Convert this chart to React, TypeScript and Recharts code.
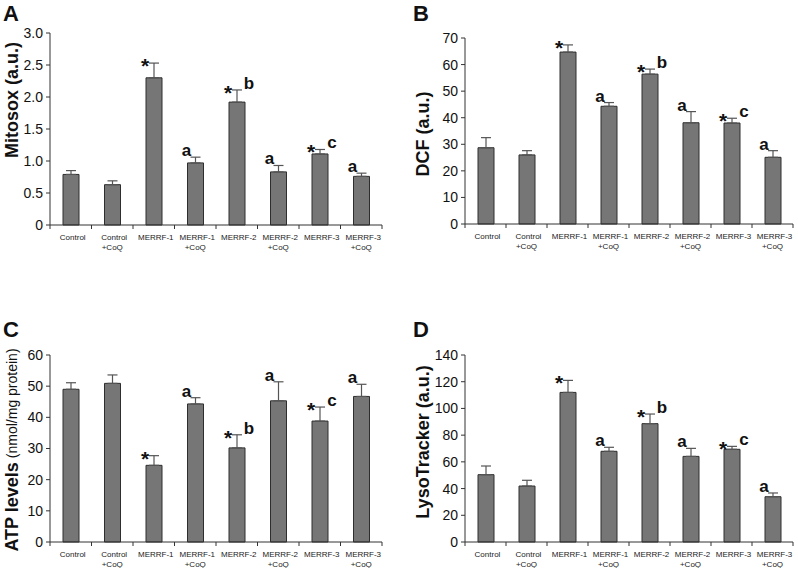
import { BarChart, Bar, XAxis, YAxis, ErrorBar, LabelList, Label } from "recharts";

const FONT = '"Liberation Sans", Arial, Helvetica, sans-serif';
const AXIS = "#333";

const groups = [
  "Control",
  "Control\n+CoQ",
  "MERRF-1",
  "MERRF-1\n+CoQ",
  "MERRF-2",
  "MERRF-2\n+CoQ",
  "MERRF-3",
  "MERRF-3\n+CoQ",
];

const marks = ["", "", "*", "a", "* b", "a", "* c", "a"];

const mitosoxMean = [0.79, 0.63, 2.3, 0.97, 1.92, 0.83, 1.11, 0.76];
const mitosoxErr = [0.06, 0.06, 0.23, 0.09, 0.19, 0.1, 0.07, 0.05];
const mitosoxTicks = [0, 0.5, 1.0, 1.5, 2.0, 2.5, 3.0];

const dcfMean = [28.7, 26.0, 64.7, 44.3, 56.4, 38.1, 38.0, 25.1];
const dcfErr = [3.8, 1.6, 2.7, 1.4, 1.9, 4.2, 1.8, 2.5];
const dcfTicks = [0, 10, 20, 30, 40, 50, 60, 70];

const atpMean = [49.0, 50.9, 24.6, 44.3, 30.2, 45.3, 38.8, 46.7];
const atpErr = [2.1, 2.7, 3.1, 2.0, 4.2, 6.1, 4.5, 3.9];
const atpTicks = [0, 10, 20, 30, 40, 50, 60];

const lysoMean = [50.4, 41.9, 112, 67.9, 88.6, 64.1, 69.4, 33.9];
const lysoErr = [6.5, 4.3, 9.0, 3.0, 7.2, 6.0, 2.2, 2.8];
const lysoTicks = [0, 20, 40, 60, 80, 100, 120, 140];

const GroupTick = (props: any) => {
  const { x, y, payload, index } = props;
  const half = payload?.offset || props.width / (2 * groups.length);
  const lines = String(payload.value).split("\n");
  return (
    <g>
      <line x1={x - half} x2={x - half} y1={y} y2={y + 4} stroke={AXIS} />
      {index === groups.length - 1 && (
        <line x1={x + half} x2={x + half} y1={y} y2={y + 4} stroke={AXIS} />
      )}
      <text x={x + 2} y={y + 15} textAnchor="middle" fontSize={8} fill="#222" fontFamily={FONT}>
        {lines.map((l, i) => (
          <tspan key={i} x={i === 0 ? x + 2 : x} dy={i === 0 ? 0 : 10}>
            {l}
          </tspan>
        ))}
      </text>
    </g>
  );
};

interface PanelProps {
  letter: string;
  mean: number[];
  err: number[];
  ticks: number[];
  fmt?: (v: number) => string;
  left: number;
  top: number;
  marginTop: number;
  xHeight: number;
  yWidth: number;
  marginRight: number;
  labelX: number;
  labelY: number;
  letterX: number;
  letterY: number;
  yLabel: React.ReactNode;
}

const Panel = (p: PanelProps) => {
  const data = groups.map((g, i) => ({
    name: g,
    mean: p.mean[i],
    err: [0, p.err[i]],
    mark: marks[i],
  }));

  // significance marks sit just above the error bar cap
  const renderMark = (props: any) => {
    const { x, y, width, height, index } = props;
    const m = marks[index];
    if (!m) return null;
    const cx = x + width / 2;
    const errTop = y - (p.err[index] * height) / p.mean[index];
    const hasStar = m.startsWith("*");
    const letter = m.replace("*", "").trim();
    return (
      <g fontFamily={FONT} fontWeight="bold" fill="#111">
        {hasStar && (
          <text x={cx - 9} y={errTop + 10} fontSize={21} textAnchor="middle">
            *
          </text>
        )}
        {letter && (
          <text x={hasStar ? cx + 12 : cx - 9} y={errTop - 1} fontSize={17} textAnchor="middle">
            {letter}
          </text>
        )}
      </g>
    );
  };

  return (
    <div style={{ position: "absolute", left: p.left, top: p.top }}>
      <BarChart
        width={400}
        height={284}
        data={data}
        margin={{ top: p.marginTop, right: p.marginRight, bottom: 0, left: 0 }}
      >
        <XAxis
          dataKey="name"
          height={p.xHeight}
          interval={0}
          tickLine={false}
          tickSize={0}
          tickMargin={0}
          axisLine={{ stroke: AXIS }}
          tick={<GroupTick />}
        />
        <YAxis
          width={p.yWidth}
          domain={[p.ticks[0], p.ticks[p.ticks.length - 1]]}
          ticks={p.ticks}
          interval={0}
          tickSize={4}
          tickMargin={3}
          tickFormatter={p.fmt}
          axisLine={{ stroke: AXIS }}
          tickLine={{ stroke: AXIS }}
          tick={{ fontSize: 14, fill: "#111", fontFamily: FONT }}
        >
          <Label
            content={() => (
              <g fontFamily={FONT} fill="#111">
                <text x={p.letterX} y={p.letterY} fontSize={22} fontWeight="bold">
                  {p.letter}
                </text>
                <text
                  transform={`translate(${p.labelX},${p.labelY}) rotate(-90)`}
                  textAnchor="middle"
                  dominantBaseline="central"
                >
                  {p.yLabel}
                </text>
              </g>
            )}
          />
        </YAxis>
        <Bar
          dataKey="mean"
          fill="#767676"
          stroke="#2e2e2e"
          strokeWidth={1}
          barSize={16}
          isAnimationActive={false}
        >
          <ErrorBar dataKey="err" direction="y" width={5} stroke="#555" strokeWidth={1.2} />
          <LabelList dataKey="mark" content={renderMark} />
        </Bar>
      </BarChart>
    </div>
  );
};

const oneDecimal = (v: number) => (v === 0 ? "0" : v.toFixed(1));

export default function App() {
  return (
    <div
      style={{
        position: "absolute",
        left: 0,
        top: 0,
        width: 798,
        height: 568,
        background: "#fff",
      }}
    >
      <Panel
        letter="A"
        mean={mitosoxMean}
        err={mitosoxErr}
        ticks={mitosoxTicks}
        fmt={oneDecimal}
        left={0}
        top={0}
        marginTop={33}
        xHeight={59}
        yWidth={50}
        marginRight={18}
        labelX={12}
        labelY={100}
        letterX={3}
        letterY={21}
        yLabel={
          <tspan fontSize={18} fontWeight="bold">
            Mitosox (a.u.)
          </tspan>
        }
      />
      <Panel
        letter="B"
        mean={dcfMean}
        err={dcfErr}
        ticks={dcfTicks}
        left={398}
        top={0}
        marginTop={38}
        xHeight={60}
        yWidth={67}
        marginRight={5}
        labelX={25}
        labelY={134}
        letterX={15}
        letterY={21}
        yLabel={
          <tspan fontSize={18} fontWeight="bold">
            DCF (a.u.)
          </tspan>
        }
      />
      <Panel
        letter="C"
        mean={atpMean}
        err={atpErr}
        ticks={atpTicks}
        left={0}
        top={284}
        marginTop={71}
        xHeight={26}
        yWidth={50}
        marginRight={18}
        labelX={12}
        labelY={166}
        letterX={3}
        letterY={53}
        yLabel={
          <>
            <tspan fontSize={18} fontWeight="bold">
              ATP levels
            </tspan>
            <tspan fontSize={14} dx={4}>
              (nmol/mg protein)
            </tspan>
          </>
        }
      />
      <Panel
        letter="D"
        mean={lysoMean}
        err={lysoErr}
        ticks={lysoTicks}
        left={398}
        top={284}
        marginTop={71}
        xHeight={26}
        yWidth={67}
        marginRight={5}
        labelX={25}
        labelY={158}
        letterX={15}
        letterY={53}
        yLabel={
          <tspan fontSize={18} fontWeight="bold">
            LysoTracker (a.u.)
          </tspan>
        }
      />
    </div>
  );
}
